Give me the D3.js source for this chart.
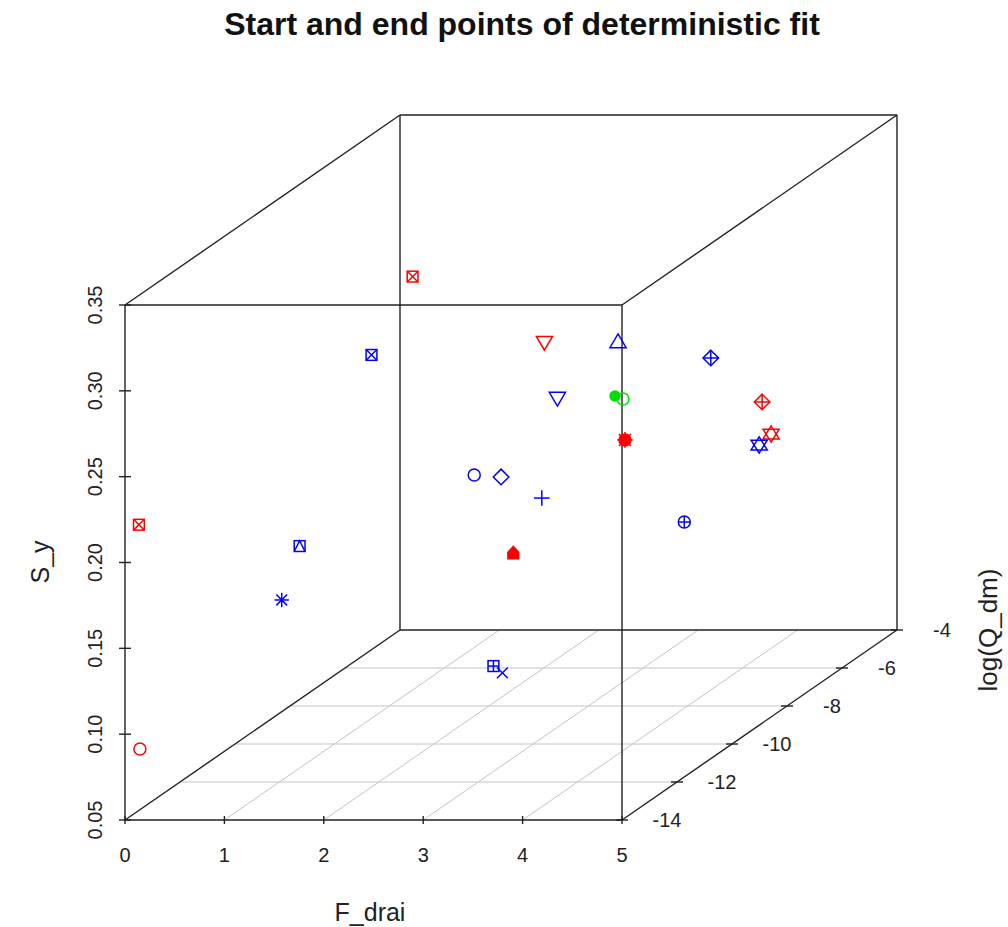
<!DOCTYPE html>
<html>
<head>
<meta charset="utf-8">
<script src="https://cdn.jsdelivr.net/npm/d3@7"></script>
<style>
  body { margin: 0; background: #fff; }
  text { font-family: "Liberation Sans", Arial, sans-serif; }
</style>
</head>
<body>
<svg id="chart" width="1008" height="927"></svg>
<script>
// ---- data ----
const title = "Start and end points of deterministic fit";
const xTicks = [0, 1, 2, 3, 4, 5];
const yTicks = [-14, -12, -10, -8, -6, -4];
const zTicks = [0.05, 0.10, 0.15, 0.20, 0.25, 0.30, 0.35];
const zTickLabels = ["0.05", "0.10", "0.15", "0.20", "0.25", "0.30", "0.35"];

const F_drai = [0.68, 0.14, 0.15, 2.80, 3.27, 3.35, 3.37, 3.68, 3.92, 4.01, 3.89, 2.60, 2.69, 0.82, 0.65, 0.47, 2.56, 3.30, 2.69, 2.13, 2.40, 2.81, 3.69];
const logQ_dm = [-6, -14, -14, -10, -8, -8, -8, -6, -5, -5, -5, -10, -10, -8, -10, -10, -8, -8, -8, -9, -9, -9, -7];
const S_y = [0.278, 0.222, 0.0914, 0.161, 0.2306, 0.2288, 0.205, 0.2306, 0.1939, 0.1752, 0.1688, 0.0954, 0.0914, 0.2545, 0.1653, 0.1339, 0.262, 0.262, 0.2294, 0.1956, 0.1945, 0.1822, 0.1461];
const symbols = ["sqx", "sqx", "circle", "house", "fcircle", "circle", "fstar", "dplus", "dplus", "david", "david", "splus", "x", "sqx", "sqtri", "asterisk", "tdown", "tup", "tdown", "circle", "diamond", "plus", "cplus"];
const groups = ["red", "red", "red", "red", "green", "green", "red", "blue", "red", "red", "blue", "blue", "blue", "blue", "blue", "blue", "red", "blue", "blue", "blue", "blue", "blue", "blue"];
const palette = { red: "#ff0000", blue: "#0000ff", green: "#00e000" };

// ---- geometry ----
const svg = d3.select("#chart");
const ox = 125, oy = 820;            // origin (F=0, Q=-14, S=0.05)
const depthDX = 275, depthDY = 190;  // projection of depth axis
const xs = d3.scaleLinear().domain([0, 5]).range([0, 497]);
const ds = d3.scaleLinear().domain([-14, -4]).range([0, 1]);
const zs = d3.scaleLinear().domain([0.05, 0.35]).range([0, 515]);
function proj(f, q, s) {
  const d = ds(q);
  return [ox + xs(f) + d * depthDX, oy - zs(s) - d * depthDY];
}

// ---- grid on bottom plane ----
const grid = svg.append("g").attr("stroke", "#c4c4c4").attr("stroke-width", 1);
xTicks.slice(1, -1).forEach(t => {
  const a = proj(t, -14, 0.05), b = proj(t, -4, 0.05);
  grid.append("line").attr("x1", a[0]).attr("y1", a[1]).attr("x2", b[0]).attr("y2", b[1]);
});
yTicks.slice(1, -1).forEach(t => {
  const a = proj(0, t, 0.05), b = proj(5, t, 0.05);
  grid.append("line").attr("x1", a[0]).attr("y1", a[1]).attr("x2", b[0]).attr("y2", b[1]);
});

// ---- box ----
const box = svg.append("g").attr("stroke", "#222").attr("stroke-width", 1.4).attr("fill", "none");
const edges = [
  [[0, -14, 0.05], [5, -14, 0.05]],
  [[0, -14, 0.05], [0, -14, 0.35]],
  [[5, -14, 0.05], [5, -14, 0.35]],
  [[0, -14, 0.35], [5, -14, 0.35]],
  [[0, -4, 0.05], [5, -4, 0.05]],
  [[0, -4, 0.05], [0, -4, 0.35]],
  [[5, -4, 0.05], [5, -4, 0.35]],
  [[0, -4, 0.35], [5, -4, 0.35]],
  [[0, -14, 0.05], [0, -4, 0.05]],
  [[5, -14, 0.05], [5, -4, 0.05]],
  [[0, -14, 0.35], [0, -4, 0.35]],
  [[5, -14, 0.35], [5, -4, 0.35]]
];
edges.forEach(e => {
  const a = proj(...e[0]), b = proj(...e[1]);
  box.append("line").attr("x1", a[0]).attr("y1", a[1]).attr("x2", b[0]).attr("y2", b[1]);
});

// ---- ticks & labels ----
const axg = svg.append("g").attr("stroke", "#222").attr("stroke-width", 1.4);
const lab = svg.append("g").attr("font-size", 20).attr("fill", "#222");

// x axis
xTicks.forEach(t => {
  const p = proj(t, -14, 0.05);
  axg.append("line").attr("x1", p[0]).attr("y1", p[1] - 4).attr("x2", p[0]).attr("y2", p[1] + 4);
  lab.append("text").attr("x", p[0]).attr("y", p[1] + 42).attr("text-anchor", "middle").text(t);
});
// z axis
zTicks.forEach((t, i) => {
  const p = proj(0, -14, t);
  axg.append("line").attr("x1", p[0] - 6).attr("y1", p[1]).attr("x2", p[0] + 6).attr("y2", p[1]);
  lab.append("text").attr("transform", `translate(${p[0] - 23},${p[1]}) rotate(-90)`)
    .attr("text-anchor", "middle").text(zTickLabels[i]);
});
// y (depth) axis
yTicks.forEach(t => {
  const p = proj(5, t, 0.05);
  axg.append("line").attr("x1", p[0] - 6).attr("y1", p[1]).attr("x2", p[0] + 6).attr("y2", p[1]);
  lab.append("text").attr("x", p[0] + 45).attr("y", p[1] + 7).attr("text-anchor", "middle").text(t);
});

// axis titles
svg.append("text").attr("x", 370).attr("y", 921).attr("text-anchor", "middle")
  .attr("font-size", 25).attr("fill", "#222").text("F_drai");
svg.append("text").attr("transform", "translate(49,562) rotate(-90)").attr("text-anchor", "middle")
  .attr("font-size", 25).attr("fill", "#222").text("S_y");
svg.append("text").attr("transform", "translate(997,630) rotate(-90)").attr("text-anchor", "middle")
  .attr("font-size", 26).attr("fill", "#222").text("log(Q_dm)");

// title
svg.append("text").attr("x", 522).attr("y", 35).attr("text-anchor", "middle")
  .attr("font-size", 32).attr("font-weight", "bold").attr("fill", "#111").text(title);

// ---- points ----
const r = 6;
function drawSymbol(g, type, col) {
  const st = { stroke: col, "stroke-width": 1.5, fill: "none" };
  const apply = (sel, extra) => { Object.entries(Object.assign({}, st, extra || {})).forEach(([k, v]) => sel.attr(k, v)); return sel; };
  const line = (x1, y1, x2, y2) => apply(g.append("line").attr("x1", x1).attr("y1", y1).attr("x2", x2).attr("y2", y2));
  const s = r * 0.9;
  switch (type) {
    case "circle": apply(g.append("circle").attr("r", r)); break;
    case "fcircle": apply(g.append("circle").attr("r", r - 1), { fill: col }); break;
    case "sqx":
      apply(g.append("rect").attr("x", -s).attr("y", -s).attr("width", 2 * s).attr("height", 2 * s));
      line(-s, -s, s, s); line(-s, s, s, -s); break;
    case "sqtri":
      apply(g.append("rect").attr("x", -s).attr("y", -s).attr("width", 2 * s).attr("height", 2 * s));
      apply(g.append("path").attr("d", `M${-s},${s}L0,${-s}L${s},${s}`)); break;
    case "splus":
      apply(g.append("rect").attr("x", -s).attr("y", -s).attr("width", 2 * s).attr("height", 2 * s));
      line(-s, 0, s, 0); line(0, -s, 0, s); break;
    case "x": line(-s, -s, s, s); line(-s, s, s, -s); break;
    case "plus": line(-r * 1.3, 0, r * 1.3, 0); line(0, -r * 1.3, 0, r * 1.3); break;
    case "asterisk":
      line(-s, -s, s, s); line(-s, s, s, -s); line(-r * 1.2, 0, r * 1.2, 0); line(0, -r * 1.2, 0, r * 1.2); break;
    case "diamond":
      apply(g.append("path").attr("d", `M0,${-r * 1.3}L${r * 1.3},0L0,${r * 1.3}L${-r * 1.3},0Z`)); break;
    case "dplus":
      apply(g.append("path").attr("d", `M0,${-r * 1.3}L${r * 1.3},0L0,${r * 1.3}L${-r * 1.3},0Z`));
      line(-r * 1.3, 0, r * 1.3, 0); line(0, -r * 1.3, 0, r * 1.3); break;
    case "cplus":
      apply(g.append("circle").attr("r", r));
      line(-r, 0, r, 0); line(0, -r, 0, r); break;
    case "tup": {
      const h = r * 1.35;
      apply(g.append("path").attr("d", `M0,${-h}L${h},${h * 0.7}L${-h},${h * 0.7}Z`)); break;
    }
    case "tdown": {
      const h = r * 1.35;
      apply(g.append("path").attr("d", `M0,${h}L${h},${-h * 0.7}L${-h},${-h * 0.7}Z`)); break;
    }
    case "david": {
      const h = r * 1.35;
      apply(g.append("path").attr("d", `M0,${-h}L${h},${h * 0.6}L${-h},${h * 0.6}Z`));
      apply(g.append("path").attr("d", `M0,${h}L${h},${-h * 0.6}L${-h},${-h * 0.6}Z`)); break;
    }
    case "fstar":
      apply(g.append("circle").attr("r", r), { fill: col });
      line(-r * 1.3, 0, r * 1.3, 0); line(0, -r * 1.3, 0, r * 1.3);
      line(-r, -r, r, r); line(-r, r, r, -r); break;
    case "house":
      apply(g.append("path").attr("d", `M${-s},${s}L${-s},${-s * 0.2}L0,${-s * 1.3}L${s},${-s * 0.2}L${s},${s}Z`), { fill: col }); break;
  }
}
const pts = svg.append("g");
F_drai.forEach((f, i) => {
  const p = proj(f, logQ_dm[i], S_y[i]);
  const g = pts.append("g").attr("transform", `translate(${p[0]},${p[1]})`);
  drawSymbol(g, symbols[i], palette[groups[i]]);
});
</script>
</body>
</html>
